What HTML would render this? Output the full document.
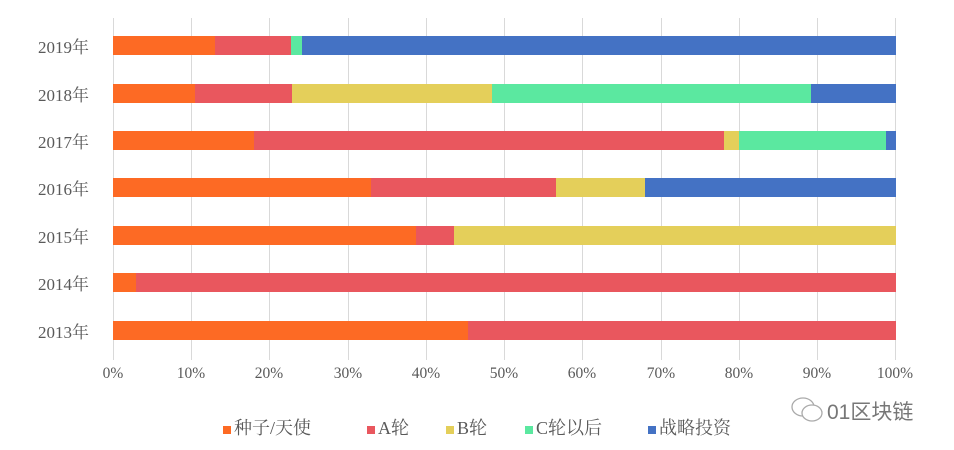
<!DOCTYPE html>
<html><head><meta charset="utf-8"><style>
body{margin:0;background:#fff;width:954px;height:450px;overflow:hidden;position:relative;font-family:"Liberation Serif","Noto Serif CJK SC",serif;color:#595959}
.g{position:absolute;top:18px;height:342px;width:1px;background:#d9d9d9}
.bar{position:absolute;height:19px;display:flex;left:113px;width:783px}
.bar div{height:100%}
.yl{position:absolute;left:38px;font-size:17px;width:70px}
.xl{position:absolute;top:365px;font-size:15.5px;width:60px;text-align:center;margin-left:-30px}
.lg{position:absolute;top:414px;font-size:18px;font-family:"Liberation Serif","Noto Serif CJK SC",serif}
.lg span{display:inline-block;width:8px;height:8px;margin-right:3px;vertical-align:middle}
</style></head><body>
<div class="g" style="left:113px"></div><div class="g" style="left:191px"></div><div class="g" style="left:269px"></div><div class="g" style="left:348px"></div><div class="g" style="left:426px"></div><div class="g" style="left:504px"></div><div class="g" style="left:582px"></div><div class="g" style="left:661px"></div><div class="g" style="left:739px"></div><div class="g" style="left:817px"></div><div class="g" style="left:895px"></div>

<div class="bar" style="top:36px"><div style="width:13%;background:#FD6A24"></div><div style="width:9.7%;background:#E9575E"></div><div style="width:1.5%;background:#5BE8A0"></div><div style="flex:1;background:#4472C4"></div></div>
<div class="bar" style="top:84px"><div style="width:10.5%;background:#FD6A24"></div><div style="width:12.3%;background:#E9575E"></div><div style="width:25.6%;background:#E4CF5A"></div><div style="width:40.7%;background:#5BE8A0"></div><div style="flex:1;background:#4472C4"></div></div>
<div class="bar" style="top:131px"><div style="width:18%;background:#FD6A24"></div><div style="width:60%;background:#E9575E"></div><div style="width:2%;background:#E4CF5A"></div><div style="width:18.7%;background:#5BE8A0"></div><div style="flex:1;background:#4472C4"></div></div>
<div class="bar" style="top:178px"><div style="width:33%;background:#FD6A24"></div><div style="width:23.6%;background:#E9575E"></div><div style="width:11.3%;background:#E4CF5A"></div><div style="flex:1;background:#4472C4"></div></div>
<div class="bar" style="top:226px"><div style="width:38.7%;background:#FD6A24"></div><div style="width:4.9%;background:#E9575E"></div><div style="flex:1;background:#E4CF5A"></div></div>
<div class="bar" style="top:273px"><div style="width:2.9%;background:#FD6A24"></div><div style="flex:1;background:#E9575E"></div></div>
<div class="bar" style="top:321px"><div style="width:45.3%;background:#FD6A24"></div><div style="flex:1;background:#E9575E"></div></div>

<div class="yl" style="top:33px">2019年</div>
<div class="yl" style="top:81px">2018年</div>
<div class="yl" style="top:128px">2017年</div>
<div class="yl" style="top:175px">2016年</div>
<div class="yl" style="top:223px">2015年</div>
<div class="yl" style="top:270px">2014年</div>
<div class="yl" style="top:318px">2013年</div>

<div class="xl" style="left:113px">0%</div><div class="xl" style="left:191px">10%</div><div class="xl" style="left:269px">20%</div><div class="xl" style="left:348px">30%</div><div class="xl" style="left:426px">40%</div><div class="xl" style="left:504px">50%</div><div class="xl" style="left:582px">60%</div><div class="xl" style="left:661px">70%</div><div class="xl" style="left:739px">80%</div><div class="xl" style="left:817px">90%</div><div class="xl" style="left:895px">100%</div>

<div class="lg" style="left:223px"><span style="background:#FD6A24"></span>种子/天使</div>
<div class="lg" style="left:367px"><span style="background:#E9575E"></span>A轮</div>
<div class="lg" style="left:446px"><span style="background:#E4CF5A"></span>B轮</div>
<div class="lg" style="left:525px"><span style="background:#5BE8A0"></span>C轮以后</div>
<div class="lg" style="left:648px"><span style="background:#4472C4"></span>战略投资</div>

<svg style="position:absolute;left:790px;top:395px" width="36" height="32"><ellipse cx="13" cy="12" rx="11" ry="9" fill="none" stroke="#aaa" stroke-width="1.3"/><ellipse cx="22" cy="18" rx="10" ry="8" fill="#fff" stroke="#aaa" stroke-width="1.3"/></svg>
<div style="position:absolute;left:827px;top:396px;font-size:21px;color:#777;font-family:'Liberation Sans','Noto Sans CJK SC',sans-serif">01区块链</div>
</body></html>
